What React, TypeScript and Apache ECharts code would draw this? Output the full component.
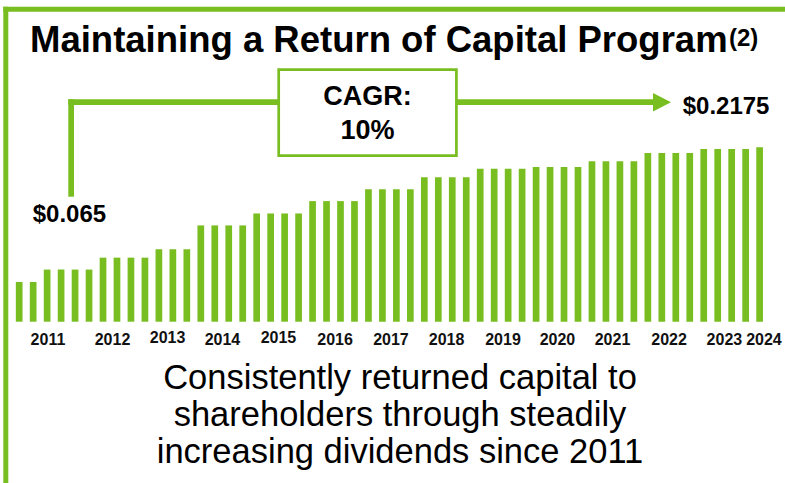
import React, { useEffect, useRef } from "react";
import * as echarts from "echarts";

// Quarterly dividends per share, 2011 Q1 .. 2024 Q2 (54 quarters)
const quarterYears = [2011, 2012, 2013, 2014, 2015, 2016, 2017, 2018, 2019, 2020, 2021, 2022, 2023, 2024];
const quarters: string[] = [];
quarterYears.forEach((y) => {
  ["Q1", "Q2", "Q3", "Q4"].forEach((q) => {
    if (y === 2024 && (q === "Q3" || q === "Q4")) return;
    quarters.push(`${y} ${q}`);
  });
});

const dividends = [
  0.065, 0.065,
  0.079, 0.079, 0.079, 0.079,
  0.0925, 0.0925, 0.0925, 0.0925,
  0.102, 0.102, 0.102,
  0.129, 0.129, 0.129, 0.129,
  0.1425, 0.1425, 0.1425, 0.1425,
  0.1565, 0.1565, 0.1565, 0.1565,
  0.17, 0.17, 0.17, 0.17,
  0.1835, 0.1835, 0.1835, 0.1835,
  0.193, 0.193, 0.193, 0.193,
  0.195, 0.195, 0.195, 0.195,
  0.2015, 0.2015, 0.2015, 0.2015,
  0.211, 0.211, 0.211, 0.211,
  0.2155, 0.2155, 0.2155, 0.2155,
  0.2175,
];

// Year tick labels and where they sit along the quarter axis (in quarter-index units)
const yearLabels = ["2011", "2012", "2013", "2014", "2015", "2016", "2017", "2018", "2019", "2020", "2021", "2022", "2023", "2024"];
const yearTickAt = [2.06, 6.68, 10.62, 14.55, 18.56, 22.61, 26.61, 30.59, 34.63, 38.53, 42.47, 46.52, 50.48, 53.31];
const raisedYears = ["2013", "2015"];

const titleText = "Maintaining a Return of Capital Program";
const footnoteMark = "(2)";
const cagrText = "CAGR:\n10%";
const subtitleText = "Consistently returned capital to\nshareholders through steadily\nincreasing dividends since 2011";

const GREEN = "#78BE20";
const FONT = '"Liberation Sans", Arial, sans-serif';

export default function App() {
  const ref = useRef<HTMLDivElement>(null);

  useEffect(() => {
    document.body.style.margin = "0";
    if (!ref.current) return;
    const chart = echarts.init(ref.current, null, { renderer: "svg" });

    const first = dividends[0];
    const last = dividends[dividends.length - 1];

    chart.setOption({
      animation: false,
      backgroundColor: "#ffffff",
      grid: { left: 12.2, right: 18.4, top: 118.5, bottom: 161.3, containLabel: false },
      xAxis: [
        {
          type: "category",
          data: quarters,
          boundaryGap: true,
          axisLine: { show: false },
          axisTick: { show: false },
          axisLabel: { show: false },
          splitLine: { show: false },
        },
        {
          type: "value",
          position: "bottom",
          min: -0.5,
          max: quarters.length - 0.5,
          axisLine: { show: false },
          axisTick: { show: false },
          splitLine: { show: false },
          axisLabel: {
            show: true,
            customValues: yearTickAt,
            margin: 8,
            fontFamily: FONT,
            fontSize: 16,
            fontWeight: "bold",
            color: "#111111",
            formatter: (v: number) => {
              let best = 0;
              yearTickAt.forEach((t, i) => {
                if (Math.abs(t - v) < Math.abs(yearTickAt[best] - v)) best = i;
              });
              const lab = yearLabels[best];
              return raisedYears.includes(lab) ? `{u|${lab}}` : `{n|${lab}}`;
            },
            rich: {
              n: { fontFamily: FONT, fontSize: 16, fontWeight: "bold", color: "#111111", padding: [1.5, 0, 0, 0] },
              u: { fontFamily: FONT, fontSize: 16, fontWeight: "bold", color: "#111111" },
            },
          },
        },
      ],
      yAxis: {
        type: "value",
        min: 0.02,
        max: 0.25,
        show: false,
        splitLine: { show: false },
      },
      series: [
        {
          type: "bar",
          xAxisIndex: 0,
          data: dividends,
          barWidth: 6.7,
          itemStyle: { color: GREEN },
          silent: true,
        },
      ],
      graphic: [
        // frame
        { type: "rect", shape: { x: 3.3, y: 6.7, width: 781.7, height: 5 }, style: { fill: GREEN }, silent: true },
        { type: "rect", shape: { x: 3.3, y: 6.7, width: 5, height: 476.3 }, style: { fill: GREEN }, silent: true },
        // title
        {
          type: "text",
          x: 30,
          y: 39,
          style: { text: titleText, font: `bold 36.5px ${FONT}`, fill: "#000000", textAlign: "left", textVerticalAlign: "middle" },
        },
        {
          type: "text",
          x: 729,
          y: 37,
          style: { text: footnoteMark, font: `bold 24px ${FONT}`, fill: "#000000", textAlign: "left", textVerticalAlign: "middle" },
        },
        // CAGR bracket arrow
        { type: "rect", shape: { x: 68.3, y: 99.3, width: 5.7, height: 97.4 }, style: { fill: GREEN }, silent: true },
        { type: "rect", shape: { x: 68.3, y: 99.3, width: 210.4, height: 5.7 }, style: { fill: GREEN }, silent: true },
        { type: "rect", shape: { x: 456, y: 99.3, width: 198, height: 5.7 }, style: { fill: GREEN }, silent: true },
        {
          type: "polygon",
          shape: { points: [[653, 93], [671, 102.2], [653, 111.4]] },
          style: { fill: GREEN },
          silent: true,
        },
        {
          type: "rect",
          shape: { x: 278.7, y: 69.7, width: 177.7, height: 85.9 },
          style: { fill: "#ffffff", stroke: GREEN, lineWidth: 2.7 },
          z: 10,
          silent: true,
        },
        {
          type: "text",
          x: 367.5,
          y: 113,
          z: 11,
          style: {
            text: cagrText,
            font: `bold 27px ${FONT}`,
            lineHeight: 34,
            fill: "#000000",
            textAlign: "center",
            textVerticalAlign: "middle",
          },
        },
        {
          type: "text",
          x: 682.7,
          y: 105,
          style: { text: `$${last}`, font: `bold 24px ${FONT}`, fill: "#000000", textAlign: "left", textVerticalAlign: "middle" },
        },
        {
          type: "text",
          x: 32.7,
          y: 213,
          style: { text: `$${first}`, font: `bold 24px ${FONT}`, fill: "#000000", textAlign: "left", textVerticalAlign: "middle" },
        },
        // subtitle
        {
          type: "text",
          x: 400,
          y: 414,
          style: {
            text: subtitleText,
            font: `34.5px ${FONT}`,
            lineHeight: 37,
            fill: "#000000",
            textAlign: "center",
            textVerticalAlign: "middle",
          },
        },
      ],
    });

    return () => {
      chart.dispose();
    };
  }, []);

  return <div ref={ref} style={{ width: 785, height: 483 }} />;
}
